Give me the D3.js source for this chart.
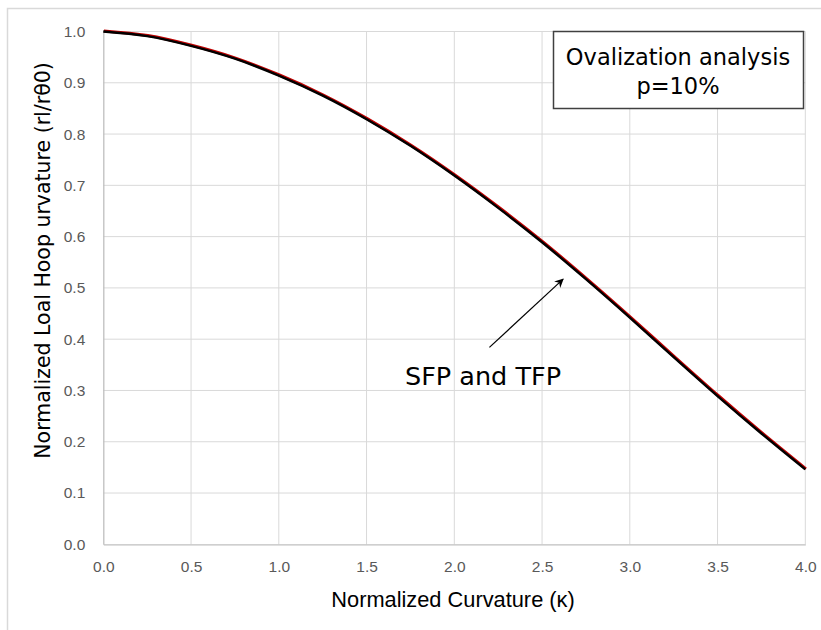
<!DOCTYPE html>
<html><head><meta charset="utf-8">
<script src="https://cdn.jsdelivr.net/npm/d3@7"></script>
<style>body{margin:0;background:#fff}</style>
</head><body>
<svg id="c" width="821" height="630"></svg>
<script>
const kappa = [0, 0.25, 0.5, 0.75, 1.0, 1.25, 1.5, 1.75, 2.0, 2.25, 2.5, 2.75, 3.0, 3.25, 3.5, 3.75, 4.0];
const sfp   = [1.000, 0.991, 0.972, 0.947, 0.914, 0.875, 0.829, 0.777, 0.719, 0.656, 0.589, 0.517, 0.442, 0.365, 0.289, 0.216, 0.146];
const tfp   = [1.000, 0.991, 0.972, 0.947, 0.914, 0.875, 0.829, 0.777, 0.719, 0.656, 0.589, 0.517, 0.442, 0.365, 0.289, 0.216, 0.146];
const xTicks = [0, 0.5, 1.0, 1.5, 2.0, 2.5, 3.0, 3.5, 4.0];
const yTicks = [0, 0.1, 0.2, 0.3, 0.4, 0.5, 0.6, 0.7, 0.8, 0.9, 1.0];
const arrowFrom = [2.2, 0.384], arrowTo = [2.62, 0.517];

const svg = d3.select("#c");
svg.append("rect").attr("x",7.5).attr("y",8.5).attr("width",830).attr("height",640)
  .attr("fill","#fff").attr("stroke","#d9d9d9").attr("stroke-width",1.5);

const x = d3.scaleLinear().domain([0,4]).range([103.3,805.3]);
const y = d3.scaleLinear().domain([0,1]).range([544.3,31.5]);

// grid
svg.append("g").selectAll("line").data(xTicks.slice(1)).join("line")
  .attr("x1",d=>x(d)).attr("x2",d=>x(d)).attr("y1",y(0)).attr("y2",y(1))
  .attr("stroke","#d9d9d9").attr("stroke-width",1);
svg.append("g").selectAll("line").data(yTicks.slice(1)).join("line")
  .attr("x1",x(0)).attr("x2",x(4)).attr("y1",d=>y(d)).attr("y2",d=>y(d))
  .attr("stroke","#d9d9d9").attr("stroke-width",1);

// axes
const xa = svg.append("g").attr("transform",`translate(0,${y(0)})`)
  .call(d3.axisBottom(x).tickValues(xTicks).tickFormat(d3.format(".1f")).tickSize(0).tickPadding(17));
const ya = svg.append("g").attr("transform",`translate(${x(0)},0)`)
  .call(d3.axisLeft(y).tickValues(yTicks).tickFormat(d3.format(".1f")).tickSize(0).tickPadding(18));
[xa,ya].forEach(a=>{
  a.attr("font-size",null).attr("font-family",null);
  a.select(".domain").attr("stroke","#bfbfbf").attr("stroke-width",1.3);
  a.selectAll("text").attr("fill","#595959").style("font-family","Liberation Sans, Arial, sans-serif").style("font-size","15.5px");
});

// lines
const line = d3.line().x((d,i)=>x(kappa[i])).y(d=>y(d)).curve(d3.curveCatmullRom.alpha(0.5));
svg.append("path").datum(sfp).attr("d",line).attr("fill","none").attr("stroke","#c00000").attr("stroke-width",3)
  .attr("transform","translate(0.6,-0.6)");
svg.append("path").datum(tfp).attr("d",line).attr("fill","none").attr("stroke","#000").attr("stroke-width",2.4);

// axis titles
svg.append("text").attr("x",453).attr("y",607).attr("text-anchor","middle")
  .style("font-family","Liberation Sans, Arial, sans-serif").style("font-size","21.8px").attr("fill","#000")
  .text("Normalized Curvature (κ)");
svg.append("text").attr("transform","translate(50,260.5) rotate(-90)").attr("text-anchor","middle")
  .style("font-family","DejaVu Sans, Verdana, sans-serif").style("font-size","20.5px").attr("fill","#000")
  .text("Normalized Loal Hoop urvature (rl/rθ0)");

// annotation box
svg.append("rect").attr("x",553.5).attr("y",31.5).attr("width",250).attr("height",77)
  .attr("fill","#fff").attr("stroke","#404040").attr("stroke-width",1.5);
svg.append("text").attr("x",678).attr("y",64.5).attr("text-anchor","middle")
  .style("font-family","DejaVu Sans, Verdana, sans-serif").style("font-size","22.5px").text("Ovalization analysis");
svg.append("text").attr("x",678).attr("y",93.5).attr("text-anchor","middle")
  .style("font-family","DejaVu Sans, Verdana, sans-serif").style("font-size","22.5px").text("p=10%");

// arrow
svg.append("defs").append("marker").attr("id","ah").attr("viewBox","0 0 10 10").attr("refX",9).attr("refY",5)
  .attr("markerWidth",9).attr("markerHeight",9).attr("markerUnits","userSpaceOnUse").attr("orient","auto")
  .append("path").attr("d","M0,0 L10,5 L0,10 L3,5 Z").attr("fill","#000");
svg.append("line").attr("x1",x(arrowFrom[0])).attr("y1",y(arrowFrom[1])).attr("x2",x(arrowTo[0])).attr("y2",y(arrowTo[1]))
  .attr("stroke","#000").attr("stroke-width",1.2).attr("marker-end","url(#ah)");
svg.append("text").attr("x",405).attr("y",385)
  .style("font-family","DejaVu Sans, Verdana, sans-serif").style("font-size","25.5px").text("SFP and TFP");
</script>
</body></html>
